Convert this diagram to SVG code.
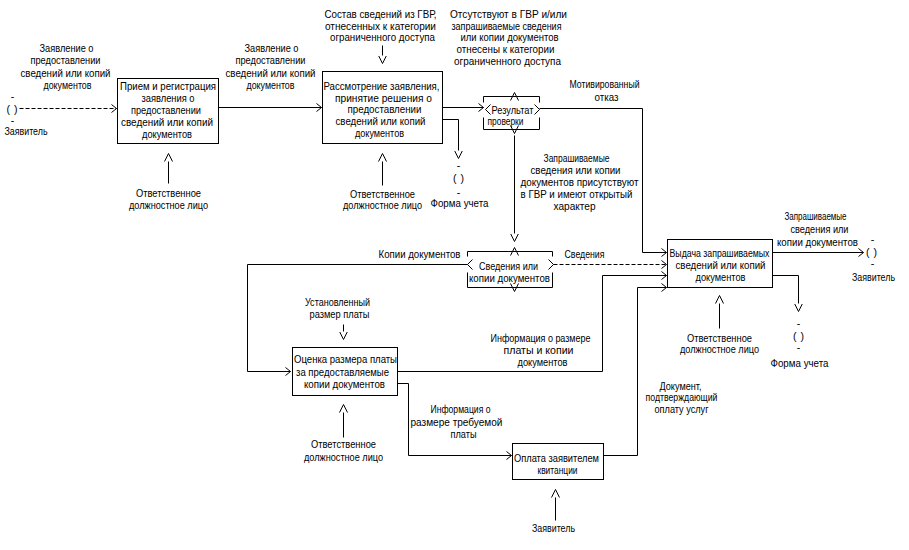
<svg xmlns="http://www.w3.org/2000/svg" width="909" height="550" viewBox="0 0 909 550">
<style>
text{font-family:"Liberation Sans",Arial,sans-serif;font-size:10.5px;fill:#000;text-anchor:middle}
.box{fill:#fff;stroke:#000;stroke-width:1}
.ln{fill:none;stroke:#000;stroke-width:1}
.dash{stroke-dasharray:4 2}
.st{text-anchor:start}
</style>
<defs>
<marker id="ah" viewBox="0 0 6 9" refX="5.5" refY="4.5" markerWidth="6" markerHeight="9" markerUnits="userSpaceOnUse" orient="auto"><path d="M0.5,0.5 L5.5,4.5 L0.5,8.5" fill="none" stroke="#000"/></marker>
<marker id="av" viewBox="0 0 9 9" refX="0" refY="4.5" markerWidth="9" markerHeight="9" markerUnits="userSpaceOnUse" orient="auto"><path d="M0,0.5 L8,4.5 L0,8.5" fill="none" stroke="#000"/></marker>
</defs>
<rect width="909" height="550" fill="#fff"/>
<g transform="translate(0.5,0.5)">
<g id="connectors">
<path class="ln dash" d="M19,108 H116" marker-end="url(#ah)"/>
<path class="ln" d="M218,107 H321" marker-end="url(#ah)"/>
<path class="ln" d="M442,107 H483" marker-end="url(#ah)"/>
<path class="ln" d="M539,108 H642 V252 H666" marker-end="url(#ah)"/>
<path class="ln dash" d="M553,264 H666" marker-end="url(#ah)"/>
<path class="ln" d="M397,371 H602 V275 H666" marker-end="url(#ah)"/>
<path class="ln" d="M603,455 H637 V287 H666" marker-end="url(#ah)"/>
<path class="ln" d="M772,252 H863" marker-end="url(#ah)"/>
<path class="ln" d="M467,264 H247 V371 H290" marker-end="url(#ah)"/>
<path class="ln" d="M397,383 H408 V455 H511" marker-end="url(#ah)"/>
<path class="ln" d="M382,45 V55" marker-end="url(#av)"/>
<path class="ln" d="M343,324 V331" marker-end="url(#av)"/>
<path class="ln" d="M514,135 V233" marker-end="url(#av)"/>
<path class="ln" d="M442,119 H458 V150" marker-end="url(#av)"/>
<path class="ln" d="M772,275 H798 V303" marker-end="url(#av)"/>
<path class="ln" d="M168,183 V161" marker-end="url(#av)"/>
<path class="ln" d="M382,185 V161" marker-end="url(#av)"/>
<path class="ln" d="M343,437 V412" marker-end="url(#av)"/>
<path class="ln" d="M555,520 V497" marker-end="url(#av)"/>
<path class="ln" d="M719,328 V303" marker-end="url(#av)"/>
</g>
<g id="connector-labels">
<text x="66" y="51" textLength="54" lengthAdjust="spacingAndGlyphs">Заявление о</text>
<text x="65" y="63" textLength="70" lengthAdjust="spacingAndGlyphs">предоставлении</text>
<text x="65" y="76" textLength="90" lengthAdjust="spacingAndGlyphs">сведений или копий</text>
<text x="67" y="88" textLength="48" lengthAdjust="spacingAndGlyphs">документов</text>
<text x="271" y="51" textLength="54" lengthAdjust="spacingAndGlyphs">Заявление о</text>
<text x="270" y="63" textLength="70" lengthAdjust="spacingAndGlyphs">предоставлении</text>
<text x="270" y="76" textLength="90" lengthAdjust="spacingAndGlyphs">сведений или копий</text>
<text x="270" y="88" textLength="48" lengthAdjust="spacingAndGlyphs">документов</text>
<text x="380" y="17" textLength="112" lengthAdjust="spacingAndGlyphs">Состав сведений из ГВР,</text>
<text x="380" y="29" textLength="111" lengthAdjust="spacingAndGlyphs">отнесенных к категории</text>
<text x="382" y="40" textLength="105" lengthAdjust="spacingAndGlyphs">ограниченного доступа</text>
<text x="508" y="17" textLength="117" lengthAdjust="spacingAndGlyphs">Отсутствуют в ГВР и/или</text>
<text x="506" y="29" textLength="110" lengthAdjust="spacingAndGlyphs">запрашиваемые сведения</text>
<text x="509" y="40" textLength="98" lengthAdjust="spacingAndGlyphs">или копии документов</text>
<text x="505" y="52" textLength="98" lengthAdjust="spacingAndGlyphs">отнесены к категории</text>
<text x="507" y="64" textLength="107" lengthAdjust="spacingAndGlyphs">ограниченного доступа</text>
<text x="604" y="87" textLength="70" lengthAdjust="spacingAndGlyphs">Мотивированный</text>
<text x="606" y="100" textLength="24" lengthAdjust="spacingAndGlyphs">отказ</text>
<text x="576" y="161" textLength="66" lengthAdjust="spacingAndGlyphs">Запрашиваемые</text>
<text x="575" y="173" textLength="90" lengthAdjust="spacingAndGlyphs">сведения или копии</text>
<text x="579" y="185" textLength="118" lengthAdjust="spacingAndGlyphs">документов присутствуют</text>
<text x="576" y="197" textLength="112" lengthAdjust="spacingAndGlyphs">в ГВР и имеют открытый</text>
<text x="574" y="209" textLength="42" lengthAdjust="spacingAndGlyphs">характер</text>
<text x="419" y="257" textLength="82" lengthAdjust="spacingAndGlyphs">Копии документов</text>
<text x="584" y="257" textLength="40" lengthAdjust="spacingAndGlyphs">Сведения</text>
<text x="337" y="305" textLength="65" lengthAdjust="spacingAndGlyphs">Установленный</text>
<text x="339" y="317" textLength="60" lengthAdjust="spacingAndGlyphs">размер платы</text>
<text x="540" y="341" textLength="100" lengthAdjust="spacingAndGlyphs">Информация о размере</text>
<text x="538" y="353" textLength="70" lengthAdjust="spacingAndGlyphs">платы и копии</text>
<text x="542" y="365" textLength="50" lengthAdjust="spacingAndGlyphs">документов</text>
<text x="460" y="412" textLength="60" lengthAdjust="spacingAndGlyphs">Информация о</text>
<text x="456" y="425" textLength="92" lengthAdjust="spacingAndGlyphs">размере требуемой</text>
<text x="463" y="437" textLength="26" lengthAdjust="spacingAndGlyphs">платы</text>
<text x="680" y="389" textLength="42" lengthAdjust="spacingAndGlyphs">Документ,</text>
<text x="681" y="400" textLength="72" lengthAdjust="spacingAndGlyphs">подтверждающий</text>
<text x="681" y="412" textLength="54" lengthAdjust="spacingAndGlyphs">оплату услуг</text>
<text x="815" y="219" textLength="62" lengthAdjust="spacingAndGlyphs">Запрашиваемые</text>
<text x="819" y="232" textLength="58" lengthAdjust="spacingAndGlyphs">сведения или</text>
<text x="817" y="245" textLength="81" lengthAdjust="spacingAndGlyphs">копии документов</text>
<text x="168" y="196" textLength="65" lengthAdjust="spacingAndGlyphs">Ответственное</text>
<text x="168" y="208" textLength="79" lengthAdjust="spacingAndGlyphs">должностное лицо</text>
<text x="382" y="197" textLength="65" lengthAdjust="spacingAndGlyphs">Ответственное</text>
<text x="382" y="208" textLength="79" lengthAdjust="spacingAndGlyphs">должностное лицо</text>
<text x="343" y="447" textLength="65" lengthAdjust="spacingAndGlyphs">Ответственное</text>
<text x="343" y="460" textLength="79" lengthAdjust="spacingAndGlyphs">должностное лицо</text>
<text x="719" y="341" textLength="65" lengthAdjust="spacingAndGlyphs">Ответственное</text>
<text x="719" y="352" textLength="79" lengthAdjust="spacingAndGlyphs">должностное лицо</text>
<text x="553" y="531" textLength="43" lengthAdjust="spacingAndGlyphs">Заявитель</text>
</g>
<g id="actor-left">
<text x="12" y="99">-</text>
<text x="11.5" y="112" textLength="11" lengthAdjust="spacing">( )</text>
<text x="12" y="123">-</text>
<text class="st" x="4" y="134" textLength="43" lengthAdjust="spacingAndGlyphs">Заявитель</text>
</g>
<g id="form-1">
<text x="458" y="168">-</text>
<text x="458" y="181" textLength="11" lengthAdjust="spacing">( )</text>
<text x="458" y="195">-</text>
<text x="459" y="206" textLength="58" lengthAdjust="spacingAndGlyphs">Форма учета</text>
</g>
<g id="actor-right">
<text x="872" y="242">-</text>
<text x="871" y="255" textLength="11" lengthAdjust="spacing">( )</text>
<text x="872" y="266">-</text>
<text x="873" y="280" textLength="43" lengthAdjust="spacingAndGlyphs">Заявитель</text>
</g>
<g id="form-2">
<text x="798" y="326">-</text>
<text x="798" y="339" textLength="11" lengthAdjust="spacing">( )</text>
<text x="798" y="350">-</text>
<text x="799" y="366" textLength="58" lengthAdjust="spacingAndGlyphs">Форма учета</text>
</g>
<g id="box1">
<rect class="box" x="117" y="78" width="101" height="65"/>
<text x="167.5" y="89" textLength="96" lengthAdjust="spacingAndGlyphs">Прием и регистрация</text>
<text x="167.5" y="101" textLength="53" lengthAdjust="spacingAndGlyphs">заявления о</text>
<text x="165.5" y="113" textLength="70" lengthAdjust="spacingAndGlyphs">предоставлении</text>
<text x="166.5" y="125" textLength="92" lengthAdjust="spacingAndGlyphs">сведений или копий</text>
<text x="166.5" y="137" textLength="50" lengthAdjust="spacingAndGlyphs">документов</text>
</g>
<g id="box2">
<rect class="box" x="322" y="71" width="120" height="72"/>
<text x="381" y="89" textLength="116" lengthAdjust="spacingAndGlyphs">Рассмотрение заявления,</text>
<text x="383" y="101" textLength="97" lengthAdjust="spacingAndGlyphs">принятие решения о</text>
<text x="384" y="112" textLength="74" lengthAdjust="spacingAndGlyphs">предоставлении</text>
<text x="380" y="124" textLength="90" lengthAdjust="spacingAndGlyphs">сведений или копий</text>
<text x="379" y="136" textLength="49" lengthAdjust="spacingAndGlyphs">документов</text>
</g>
<g id="junction1">
<path class="ln" d="M483,102 V96 H539 V102 M510,100 L514,92 L518,100 M490,104 L485,109 L490,114 M534,104 L539,109 L534,114 M483,117 V129 H539 V117 M510,125 L514,133 L518,125"/>
<text x="512" y="113" textLength="42" lengthAdjust="spacingAndGlyphs">Результат</text>
<text x="505" y="124" textLength="36" lengthAdjust="spacingAndGlyphs">проверки</text>
</g>
<g id="junction2">
<path class="ln" d="M467,256 V251 H552 V256 M510,255 L514,247 L518,255 M472,259 L467,264 L472,269 M548,259 L553,264 L548,269 M467,272 V287 H552 V272 M510,283 L514,291 L518,283"/>
<text x="508" y="269" textLength="59" lengthAdjust="spacingAndGlyphs">Сведения или</text>
<text x="509" y="281" textLength="81" lengthAdjust="spacingAndGlyphs">копии документов</text>
</g>
<g id="box3">
<rect class="box" x="292" y="347" width="105" height="48"/>
<text x="345" y="362" textLength="103" lengthAdjust="spacingAndGlyphs">Оценка размера платы</text>
<text x="342" y="375" textLength="93" lengthAdjust="spacingAndGlyphs">за предоставляемые</text>
<text x="344" y="387" textLength="81" lengthAdjust="spacingAndGlyphs">копии документов</text>
</g>
<g id="box4">
<rect class="box" x="512" y="443" width="91" height="36"/>
<text x="556" y="461" textLength="85" lengthAdjust="spacingAndGlyphs">Оплата заявителем</text>
<text x="557" y="473" textLength="40" lengthAdjust="spacingAndGlyphs">квитанции</text>
</g>
<g id="box5">
<rect class="box" x="667" y="239" width="105" height="48"/>
<text x="719" y="256" textLength="100" lengthAdjust="spacingAndGlyphs">Выдача запрашиваемых</text>
<text x="720" y="268" textLength="90" lengthAdjust="spacingAndGlyphs">сведений или копий</text>
<text x="720" y="280" textLength="50" lengthAdjust="spacingAndGlyphs">документов</text>
</g>
</g>
</svg>
